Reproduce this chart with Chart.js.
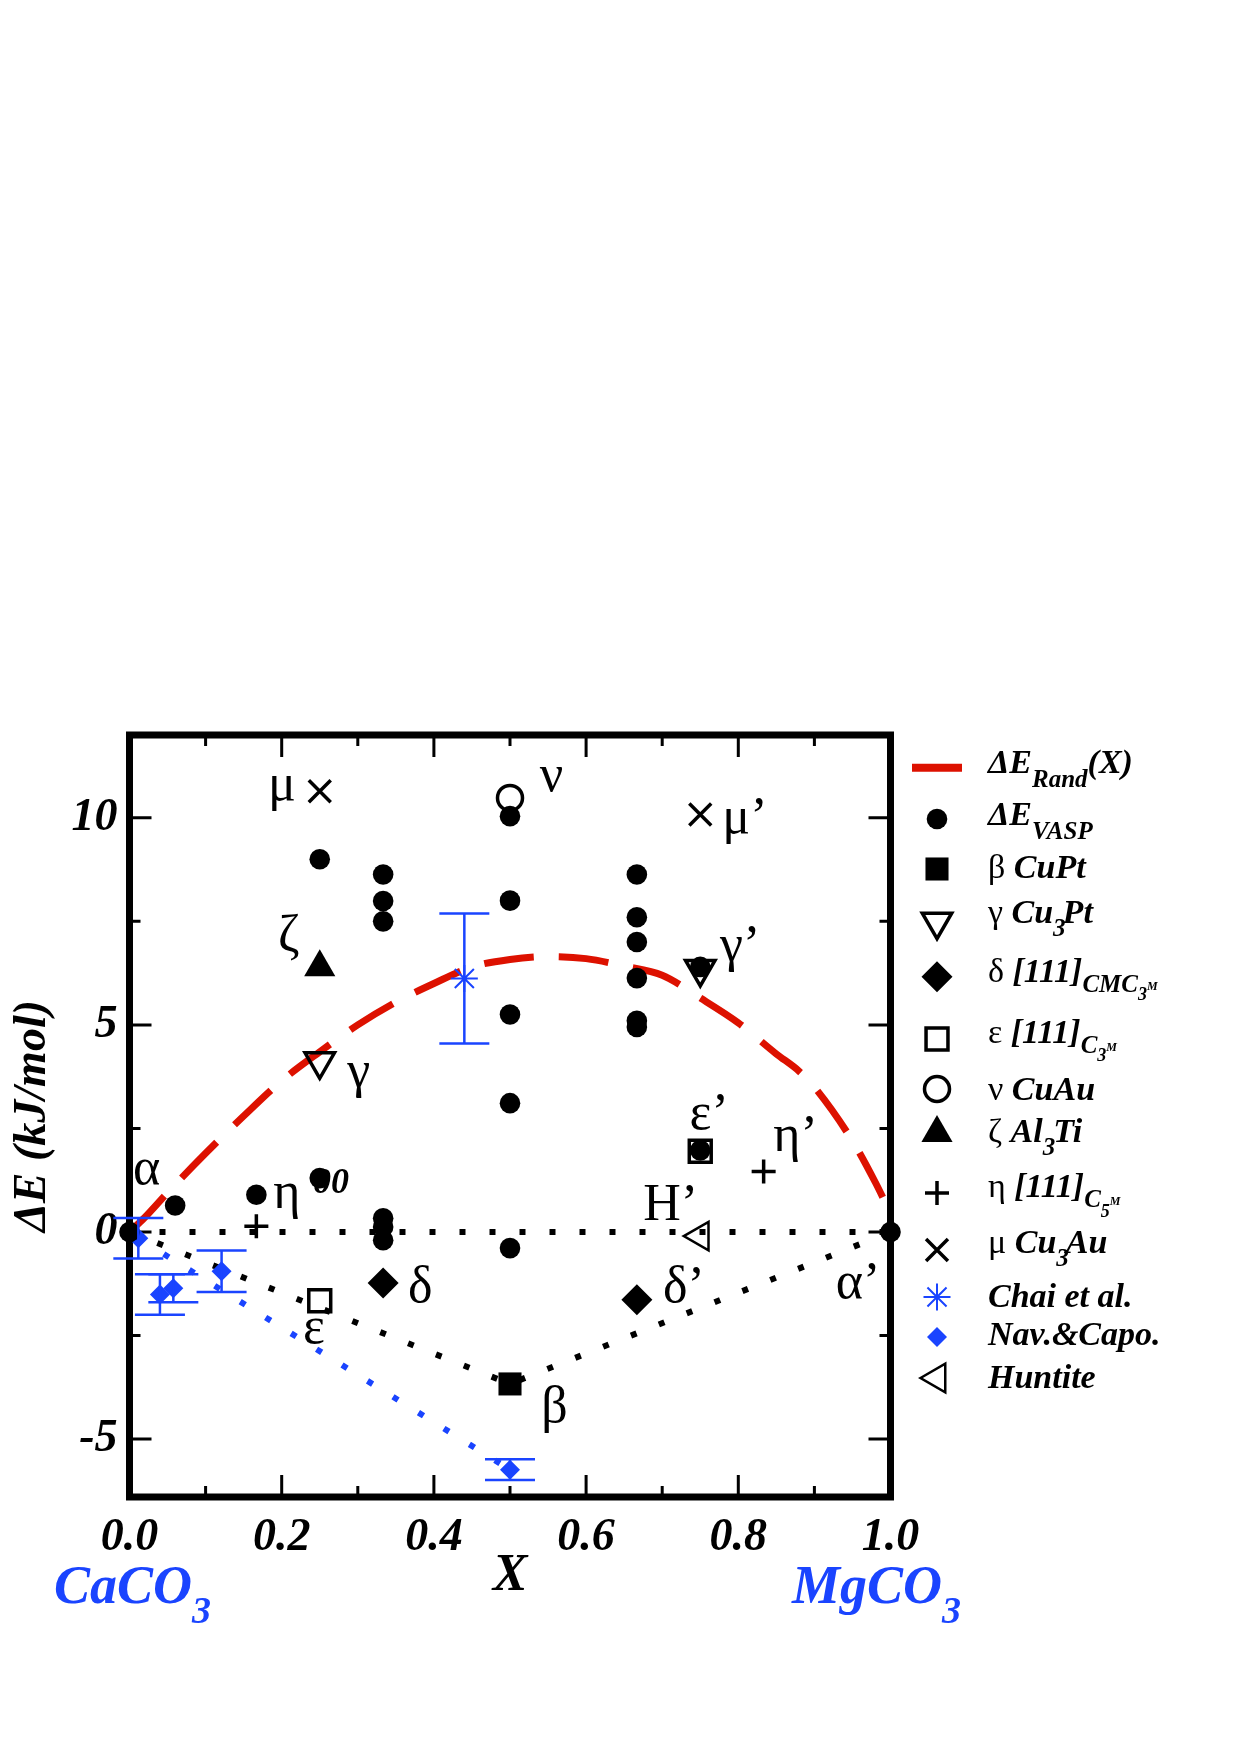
<!DOCTYPE html>
<html><head><meta charset="utf-8">
<script src="https://cdn.jsdelivr.net/npm/chart.js@4.4.1/dist/chart.umd.min.js"></script>
<style>html,body{margin:0;padding:0;background:#fff}#wrap{width:1240px;height:1755px;position:relative}</style>
</head><body><div id="wrap"><canvas id="c"></canvas></div>
<script>
// ---------- data ----------
const xTicks = [0, 0.2, 0.4, 0.6, 0.8, 1.0];
const xMinorTicks = [0.1, 0.3, 0.5, 0.7, 0.9];
const yTicks = [-5, 0, 5, 10];
const yMinorTicks = [-2.5, 2.5, 7.5];

const randX = [0, 0.02, 0.05, 0.1, 0.15, 0.2, 0.25, 0.3, 0.35, 0.4, 0.45, 0.5, 0.55, 0.6, 0.65, 0.7, 0.75, 0.8, 0.85, 0.88, 0.9, 0.95, 0.98, 1.0];
const randY = [0, 0.35, 0.95, 1.9, 2.8, 3.65, 4.35, 5.0, 5.55, 6.0, 6.4, 6.58, 6.65, 6.6, 6.42, 6.2, 5.65, 5.05, 4.3, 3.88, 3.5, 2.2, 1.2, 0.45];

const vaspX = [0, 0.06, 0.1667, 0.25, 0.25, 0.3333, 0.3333, 0.3333, 0.3333, 0.3333, 0.3333, 0.5, 0.5, 0.5, 0.5, 0.5, 0.6667, 0.6667, 0.6667, 0.6667, 0.6667, 0.6667, 0.75, 0.75, 1.0];
const vaspY = [0, 0.64, 0.90, 9.0, 1.30, 8.63, 7.99, 7.50, 0.33, 0.12, -0.2, 10.04, 8.0, 5.25, 3.11, -0.39, 8.63, 7.6, 7.0, 6.13, 5.1, 4.95, 6.4, 1.97, 0];

const betaX = [0.5];            const betaY = [-3.67];
const gammaX = [0.25, 0.75];    const gammaY = [4.12, 6.35];
const deltaX = [0.3333, 0.6667]; const deltaY = [-1.23, -1.64];
const epsX = [0.25, 0.75];      const epsY = [-1.66, 1.95];
const nuX = [0.5];              const nuY = [10.48];
const zetaX = [0.25];           const zetaY = [6.39];
const etaX = [0.1667, 0.8333];  const etaY = [0.14, 1.46];
const muX = [0.25, 0.75];       const muY = [10.64, 10.08];
const chaiX = [0.44];           const chaiY = [6.12];   const chaiErr = [1.57];
const navX = [0.0116, 0.04, 0.0576, 0.121, 0.5];
const navY = [-0.15, -1.51, -1.36, -0.95, -5.74];
const navErr = [0.49, 0.49, 0.34, 0.5, 0.25];
const huntX = [0.75];           const huntY = [-0.1];

const zeroLineX = [0, 1];       const zeroLineY = [0, 0];
const hullX = [0, 0.5, 1];      const hullY = [0, -3.67, 0];
const navHullX = [0.0116, 0.5]; const navHullY = [-0.15, -5.74];

// in-plot labels: [text, x, y]
const pointLabels = [
  ['μ', 0.182, 10.42], ['ζ', 0.195, 6.78], ['ν', 0.539, 10.64], ['μ’', 0.779, 9.63],
  ['γ’', 0.776, 6.54], ['γ', 0.286, 3.49], ['α', 0.0046, 1.15], ['η', 0.189, 0.57],
  ['δ', 0.366, -1.68], ['ε', 0.228, -2.69], ['β', 0.541, -4.6], ['ε’', 0.736, 2.48],
  ['η’', 0.846, 1.95], ['H’', 0.675, 0.28], ['δ’', 0.701, -1.68], ['α’', 0.928, -1.6]
];
const smallLabels = [['00', 0.241, 0.93]];

// ---------- style ----------
const BLUE = '#1a44ff';
const RED = '#dd1100';
const SERIF = '"Liberation Serif", "DejaVu Serif", serif';
const BI = (s) => 'italic bold ' + s + 'px ' + SERIF;
const RG = (s) => s + 'px ' + SERIF;

const pts = (xs, ys) => xs.map((x, i) => ({x: x, y: ys[i]}));

function mk(label, xs, ys, st) {
  return Object.assign({
    label: label, type: 'scatter', data: pts(xs, ys), clip: false,
    pointBorderColor: '#000', pointBackgroundColor: '#000', pointBorderWidth: 0,
    showLine: false
  }, st);
}

const datasets = [
  mk('ΔE_VASP', vaspX, vaspY, {pointStyle: 'circle', pointRadius: 10.3, pointBorderWidth: 0}),
  mk('β CuPt', betaX, betaY, {pointStyle: 'rect', pointRadius: 16.3}),
  mk('γ Cu3Pt', gammaX, gammaY, {pointStyle: 'triangle', pointRotation: 180, pointRadius: 17, pointBackgroundColor: 'rgba(0,0,0,0)', pointBorderWidth: 3.5}),
  mk('δ', deltaX, deltaY, {pointStyle: 'rectRot', pointRadius: 15.5}),
  mk('ε', epsX, epsY, {pointStyle: 'rect', pointRadius: 15.5, pointBackgroundColor: 'rgba(0,0,0,0)', pointBorderWidth: 3.5}),
  mk('ν CuAu', nuX, nuY, {pointStyle: 'circle', pointRadius: 12.5, pointBackgroundColor: 'rgba(0,0,0,0)', pointBorderWidth: 3.5}),
  mk('ζ Al3Ti', zetaX, zetaY, {pointStyle: 'triangle', pointRadius: 18}),
  mk('η', etaX, etaY, {pointStyle: 'cross', pointRadius: 12, pointBorderWidth: 3.5}),
  mk('μ Cu3Au', muX, muY, {pointStyle: 'crossRot', pointRadius: 15.5, pointBorderWidth: 3.5}),
  mk('Chai et al.', chaiX, chaiY, {pointStyle: 'star', pointRadius: 13.5, pointBorderWidth: 2, pointBorderColor: BLUE, pointBackgroundColor: BLUE, errors: chaiErr}),
  mk('Nav.&Capo.', navX, navY, {pointStyle: 'rectRot', pointRadius: 10, pointBackgroundColor: BLUE, errors: navErr}),
  mk('Huntite', huntX, huntY, {pointStyle: 'triangle', pointRotation: 270, pointRadius: 16.5, pointBackgroundColor: 'rgba(0,0,0,0)', pointBorderWidth: 2.5}),
  {label: 'ΔE_Rand(X)', type: 'line', data: pts(randX, randY), borderColor: RED, borderWidth: 7, borderDash: [50, 25], pointRadius: 0, fill: false, cubicInterpolationMode: 'monotone', clip: false},
  {label: 'zero', type: 'line', data: pts(zeroLineX, zeroLineY), borderColor: '#000', borderWidth: 6, borderDash: [6, 24], borderCapStyle: 'butt', pointRadius: 0, fill: false},
  {label: 'hull', type: 'line', data: pts(hullX, hullY), borderColor: '#000', borderWidth: 6, borderDash: [6, 24], borderCapStyle: 'butt', pointRadius: 0, fill: false, tension: 0},
  {label: 'navhull', type: 'line', data: pts(navHullX, navHullY), borderColor: BLUE, borderWidth: 6, borderDash: [6, 24], borderCapStyle: 'butt', pointRadius: 0, fill: false}
];

// ---------- rich text ----------
function drawRich(ctx, x, y, segs) {
  let cx = x;
  segs.forEach(s => {
    ctx.font = s.f;
    ctx.fillStyle = s.c || '#000';
    ctx.textAlign = 'left';
    ctx.textBaseline = 'alphabetic';
    ctx.fillText(s.t, cx, y + (s.dy || 0));
    cx += ctx.measureText(s.t).width + (s.dx || 0);
  });
  return cx;
}

const LS = 34, LSUB = 25, LSS = 18, LM = 12;
const legendRows = [
  {y: 767.7, line: true, text: [{t: 'ΔE', f: BI(LS)}, {t: 'Rand', f: BI(LSUB), dy: 14}, {t: '(X)', f: BI(LS)}], base: 773},
  {y: 819, ds: 0, text: [{t: 'ΔE', f: BI(LS)}, {t: 'VASP', f: BI(LSUB), dy: 14}], base: 825},
  {y: 869, ds: 1, text: [{t: 'β ', f: RG(LS)}, {t: 'CuPt', f: BI(LS)}], base: 878},
  {y: 921.7, ds: 2, text: [{t: 'γ ', f: RG(LS)}, {t: 'Cu', f: BI(LS)}, {t: '3', f: BI(LSUB), dy: 13, dx: -3}, {t: 'Pt', f: BI(LS)}], base: 923},
  {y: 976.7, ds: 3, text: [{t: 'δ ', f: RG(LS)}, {t: '[111]', f: BI(LS)}, {t: 'CMC', f: BI(LSUB), dy: 10}, {t: '3', f: BI(LSS), dy: 18}, {t: 'M', f: BI(LM), dy: 8}], base: 981.7},
  {y: 1039, ds: 4, text: [{t: 'ε ', f: RG(LS)}, {t: '[111]', f: BI(LS)}, {t: 'C', f: BI(LSUB), dy: 10}, {t: '3', f: BI(LSS), dy: 18}, {t: 'M', f: BI(LM), dy: 8}], base: 1043.3},
  {y: 1089, ds: 5, text: [{t: 'ν ', f: RG(LS)}, {t: 'CuAu', f: BI(LS)}], base: 1100},
  {y: 1133, ds: 6, text: [{t: 'ζ ', f: RG(LS)}, {t: 'Al', f: BI(LS)}, {t: '3', f: BI(LSUB), dy: 13, dx: -2}, {t: 'Ti', f: BI(LS)}], base: 1141.7},
  {y: 1193, ds: 7, text: [{t: 'η ', f: RG(LS)}, {t: '[111]', f: BI(LS)}, {t: 'C', f: BI(LSUB), dy: 10}, {t: '5', f: BI(LSS), dy: 20}, {t: 'M', f: BI(LM), dy: 8}], base: 1196.7},
  {y: 1250, ds: 8, text: [{t: 'μ ', f: RG(LS)}, {t: 'Cu', f: BI(LS)}, {t: '3', f: BI(LSUB), dy: 13, dx: -3}, {t: 'Au', f: BI(LS)}], base: 1253.3},
  {y: 1297, ds: 9, text: [{t: 'Chai et al.', f: BI(LS)}], base: 1306.7},
  {y: 1337, ds: 10, text: [{t: 'Nav.&Capo.', f: BI(LS)}], base: 1345},
  {y: 1378, ds: 11, text: [{t: 'Huntite', f: BI(LS)}], base: 1388.3}
];

const plotPlugin = {
  id: 'plotPlugin',
  beforeDraw(chart) {
    const ctx = chart.ctx;
    ctx.save(); ctx.fillStyle = '#fff'; ctx.fillRect(0, 0, chart.width, chart.height); ctx.restore();
  },
  beforeDatasetsDraw(chart) {
    const ctx = chart.ctx, a = chart.chartArea, sx = chart.scales.x, sy = chart.scales.y;
    ctx.save();
    ctx.strokeStyle = '#000';
    ctx.lineCap = 'butt';
    ctx.lineWidth = 3;
    const tick = (vals, len) => {
      vals.forEach(v => {
        const px = sx.getPixelForValue(v);
        ctx.beginPath(); ctx.moveTo(px, a.bottom); ctx.lineTo(px, a.bottom - len);
        ctx.moveTo(px, a.top); ctx.lineTo(px, a.top + len); ctx.stroke();
      });
    };
    const ytick = (vals, len) => {
      vals.forEach(v => {
        const py = sy.getPixelForValue(v);
        ctx.beginPath(); ctx.moveTo(a.left, py); ctx.lineTo(a.left + len, py);
        ctx.moveTo(a.right, py); ctx.lineTo(a.right - len, py); ctx.stroke();
      });
    };
    tick(xTicks, 22); tick(xMinorTicks, 11);
    ytick(yTicks, 22); ytick(yMinorTicks, 11);
    ctx.lineWidth = 7;
    ctx.strokeRect(a.left, a.top, a.right - a.left, a.bottom - a.top);
    ctx.restore();
  },
  afterDatasetsDraw(chart) {
    const ctx = chart.ctx, sx = chart.scales.x, sy = chart.scales.y;
    ctx.save();
    // error bars
    chart.data.datasets.forEach(ds => {
      if (!ds.errors) return;
      ctx.strokeStyle = BLUE; ctx.lineWidth = 2.5;
      ds.data.forEach((p, i) => {
        const px = sx.getPixelForValue(p.x);
        const pt = sy.getPixelForValue(p.y + ds.errors[i]);
        const pb = sy.getPixelForValue(p.y - ds.errors[i]);
        ctx.beginPath();
        ctx.moveTo(px, pt); ctx.lineTo(px, pb);
        ctx.moveTo(px - 25, pt); ctx.lineTo(px + 25, pt);
        ctx.moveTo(px - 25, pb); ctx.lineTo(px + 25, pb);
        ctx.stroke();
      });
    });
    // labels
    ctx.fillStyle = '#000'; ctx.textAlign = 'left'; ctx.textBaseline = 'alphabetic';
    ctx.font = RG(52);
    pointLabels.forEach(l => ctx.fillText(l[0], sx.getPixelForValue(l[1]), sy.getPixelForValue(l[2])));
    ctx.font = BI(36);
    smallLabels.forEach(l => ctx.fillText(l[0], sx.getPixelForValue(l[1]), sy.getPixelForValue(l[2])));
    ctx.restore();
  },
  afterDraw(chart) {
    const ctx = chart.ctx;
    ctx.save();
    // legend
    const mx = 937, tx = 988;
    legendRows.forEach(r => {
      if (r.line) {
        ctx.strokeStyle = RED; ctx.lineWidth = 8; ctx.setLineDash([]);
        ctx.beginPath(); ctx.moveTo(912, r.y); ctx.lineTo(962, r.y); ctx.stroke();
      } else {
        const ds = chart.data.datasets[r.ds];
        ctx.fillStyle = ds.pointBackgroundColor; ctx.strokeStyle = ds.pointBorderColor;
        ctx.lineWidth = ds.pointBorderWidth;
        Chart.helpers.drawPoint(ctx, {pointStyle: ds.pointStyle, radius: ds.pointRadius, rotation: ds.pointRotation || 0, borderWidth: ds.pointBorderWidth}, mx, r.y);
      }
      drawRich(ctx, tx, r.base, r.text);
    });
    // compound labels
    drawRich(ctx, 54, 1603, [{t: 'CaCO', f: BI(54), c: BLUE}, {t: '3', f: BI(38), c: BLUE, dy: 20}]);
    drawRich(ctx, 792, 1603, [{t: 'MgCO', f: BI(54), c: BLUE}, {t: '3', f: BI(38), c: BLUE, dy: 20}]);
    ctx.restore();
  }
};

new Chart(document.getElementById('c'), {
  type: 'scatter',
  data: {datasets: datasets},
  options: {
    responsive: true, maintainAspectRatio: false, animation: false, events: [],
    layout: {padding: {left: 0, top: 735, right: 349.5, bottom: 0}},
    plugins: {legend: {display: false}, tooltip: {enabled: false}},
    scales: {
      x: {
        type: 'linear', min: 0, max: 1,
        afterBuildTicks: s => { s.ticks = xTicks.map(v => ({value: v})); },
        afterFit: s => { s.height = 258; },
        grid: {display: false, drawTicks: false}, border: {display: false},
        ticks: {padding: 14, color: '#000', font: {family: SERIF, size: 46, style: 'italic', weight: 'bold'}, callback: v => Number(v).toFixed(1), maxRotation: 0, autoSkip: false},
        title: {display: true, text: 'X', color: '#000', font: {family: SERIF, size: 52, style: 'italic', weight: 'bold'}, padding: {top: 0, bottom: 147}}
      },
      y: {
        type: 'linear', min: -6.4, max: 12,
        afterBuildTicks: s => { s.ticks = yTicks.map(v => ({value: v})); },
        afterFit: s => { s.width = 129.5; },
        grid: {display: false, drawTicks: false}, border: {display: false},
        ticks: {padding: 12, color: '#000', font: {family: SERIF, size: 46, style: 'italic', weight: 'bold'}, callback: v => String(v), autoSkip: false},
        title: {display: true, text: 'ΔE (kJ/mol)', color: '#000', font: {family: SERIF, size: 46, style: 'italic', weight: 'bold'}, padding: {top: 6, bottom: 0}}
      }
    }
  },
  plugins: [plotPlugin]
});
</script>
</body></html>
